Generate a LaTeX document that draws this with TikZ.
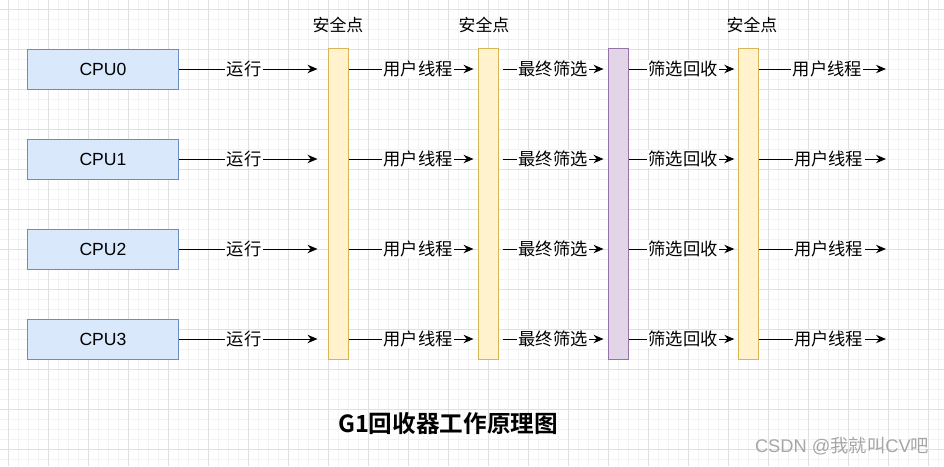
\documentclass[tikz,border=0pt]{standalone}
\usepackage{fontspec}
\setmainfont{Liberation Sans}
\newfontfamily\cjk{Noto Sans CJK SC}[BoldFont={Noto Sans CJK SC Bold}]
\usetikzlibrary{positioning,arrows.meta}
\definecolor{cpufill}{HTML}{DAE8FC}
\definecolor{cpuline}{HTML}{6C8EBF}
\definecolor{safefill}{HTML}{FFF2CC}
\definecolor{safeline}{HTML}{D6B656}
\definecolor{gcfill}{HTML}{E1D5E7}
\definecolor{gcline}{HTML}{9673A6}
\definecolor{gridmin}{HTML}{F2F2F2}
\definecolor{gridmaj}{HTML}{E0E0E0}
\tikzset{
  cpubox/.style={rectangle,draw=cpuline,fill=cpufill,line width=0.7pt,
    minimum width=3.75cm,minimum height=1cm,inner sep=0pt,
    font=\fontsize{12.5}{14}\selectfont},
  safebar/.style={rectangle,draw=safeline,fill=safefill,line width=0.7pt,
    minimum width=0.5cm,minimum height=7.75cm,inner sep=0pt},
  gcbar/.style={safebar,draw=gcline,fill=gcfill},
  safetext/.style={font=\cjk\fontsize{12}{14}\selectfont},
  flow/.style={-{Stealth[length=2.5mm,width=2.1mm]},line width=0.7pt},
  lbl/.style={font=\cjk\fontsize{12.3}{14}\selectfont,fill=white,inner sep=1pt},
  titletext/.style={font=\cjk\bfseries\fontsize{16.8}{19}\selectfont},
  wmtext/.style={font=\fontsize{13}{15}\selectfont,text=black!35},
  gridminor/.style={draw=gridmin,line width=0.5pt},
  gridmajor/.style={draw=gridmaj,line width=0.6pt}
}

\begin{document}
\begin{tikzpicture}[x=0.025cm,y=-0.025cm]

\useasboundingbox (0,0) rectangle (944,466);

% Background grid
\foreach \gx in {8,18,...,938} \draw[gridminor] (\gx,0) -- (\gx,466);
\foreach \gy in {9,19,...,459} \draw[gridminor] (0,\gy) -- (944,\gy);
\foreach \gx in {8,48,...,928} \draw[gridmajor] (\gx,0) -- (\gx,466);
\foreach \gy in {9,49,...,449} \draw[gridmajor] (0,\gy) -- (944,\gy);

% CPUs on the left
\node[cpubox] (CPU0) at (103, 69) {CPU0};
\node[cpubox] (CPU1) at (103,159) {CPU1};
\node[cpubox] (CPU2) at (103,249) {CPU2};
\node[cpubox] (CPU3) at (103,339) {CPU3};

% Safe points and the GC phase
\node[safebar] (bar1) at (338,204) {};
\node[safebar] (bar2) at (488,204) {};
\node[gcbar]   (bar3) at (618,204) {};
\node[safebar] (bar4) at (748,204) {};

\node[safetext] (sp1) at (338,25) {安全点};
\node[safetext] (sp2) at (484,25) {安全点};
\node[safetext] (sp4) at (752,25) {安全点};

% Free ends on the right
\coordinate (out0) at (886, 69);
\coordinate (out1) at (886,159);
\coordinate (out2) at (886,249);
\coordinate (out3) at (886,339);

% Running
\draw[flow,shorten >=0.25cm] (CPU0.east) -- node[lbl,pos=0.44] {运行} (CPU0.east -| bar1.west);
\draw[flow,shorten >=0.25cm] (CPU1.east) -- node[lbl,pos=0.44] {运行} (CPU1.east -| bar1.west);
\draw[flow,shorten >=0.25cm] (CPU2.east) -- node[lbl,pos=0.44] {运行} (CPU2.east -| bar1.west);
\draw[flow,shorten >=0.25cm] (CPU3.east) -- node[lbl,pos=0.44] {运行} (CPU3.east -| bar1.west);

% User threads
\draw[flow,shorten >=0.1cm] (bar1.east |- CPU0.east) -- node[lbl,pos=0.54] {用户线程} (bar2.west |- CPU0.east);
\draw[flow,shorten >=0.1cm] (bar1.east |- CPU1.east) -- node[lbl,pos=0.54] {用户线程} (bar2.west |- CPU1.east);
\draw[flow,shorten >=0.1cm] (bar1.east |- CPU2.east) -- node[lbl,pos=0.54] {用户线程} (bar2.west |- CPU2.east);
\draw[flow,shorten >=0.1cm] (bar1.east |- CPU3.east) -- node[lbl,pos=0.54] {用户线程} (bar2.west |- CPU3.east);

% Final marking
\draw[flow,shorten <=0.1cm,shorten >=0.1cm] (bar2.east |- CPU0.east) -- node[lbl] {最终筛选} (bar3.west |- CPU0.east);
\draw[flow,shorten <=0.1cm,shorten >=0.1cm] (bar2.east |- CPU1.east) -- node[lbl] {最终筛选} (bar3.west |- CPU1.east);
\draw[flow,shorten <=0.1cm,shorten >=0.1cm] (bar2.east |- CPU2.east) -- node[lbl] {最终筛选} (bar3.west |- CPU2.east);
\draw[flow,shorten <=0.1cm,shorten >=0.1cm] (bar2.east |- CPU3.east) -- node[lbl] {最终筛选} (bar3.west |- CPU3.east);

% Evacuation
\draw[flow,shorten >=0.08cm] (bar3.east |- CPU0.east) -- node[lbl] {筛选回收} (bar4.west |- CPU0.east);
\draw[flow,shorten >=0.08cm] (bar3.east |- CPU1.east) -- node[lbl] {筛选回收} (bar4.west |- CPU1.east);
\draw[flow,shorten >=0.08cm] (bar3.east |- CPU2.east) -- node[lbl] {筛选回收} (bar4.west |- CPU2.east);
\draw[flow,shorten >=0.08cm] (bar3.east |- CPU3.east) -- node[lbl] {筛选回收} (bar4.west |- CPU3.east);

% Back to user threads
\draw[flow] (bar4.east |- out0) -- node[lbl,pos=0.54] {用户线程} (out0);
\draw[flow] (bar4.east |- out1) -- node[lbl,pos=0.55] {用户线程} (out1);
\draw[flow] (bar4.east |- out2) -- node[lbl,pos=0.55] {用户线程} (out2);
\draw[flow] (bar4.east |- out3) -- node[lbl,pos=0.55] {用户线程} (out3);

% Caption
\node[titletext] (title) at (448,424) {G1回收器工作原理图};
\node[wmtext] (credit) at (842,446) {CSDN @{\cjk 我就叫}CV{\cjk 吧}};

\end{tikzpicture}
\end{document}
